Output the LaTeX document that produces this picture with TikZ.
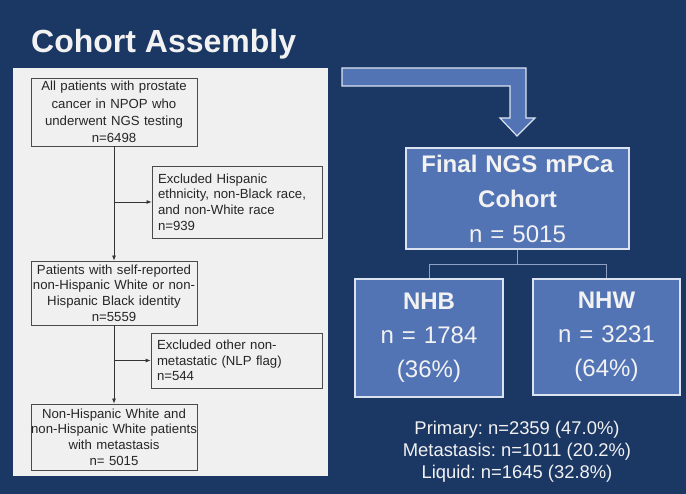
\documentclass[tikz,border=0pt]{standalone}
\usepackage{fontspec}
\setmainfont{Liberation Sans}
\frenchspacing
\usetikzlibrary{arrows.meta}
\definecolor{bg}{HTML}{1B3764}
\definecolor{panel}{HTML}{F0F0F0}
\definecolor{flowedge}{HTML}{4A4A4A}
\definecolor{boxblue}{HTML}{5274B5}
\definecolor{boxedge}{HTML}{DCE3F0}
\definecolor{connblue}{HTML}{8EA2C6}
\definecolor{lighttext}{HTML}{F2F2F2}
\tikzset{
  flowbox/.style={draw=flowedge, fill=panel, line width=0.8pt, inner sep=0pt,
    font=\fontsize{13.2}{15.7}\selectfont, text=black!85},
  centerbox/.style={flowbox, align=center, text width=166, minimum width=166},
  leftbox/.style={flowbox, align=left, inner xsep=6pt, text width=#1},
  flowarrow/.style={draw=black!80, line width=0.8pt, -{Latex[length=5pt,width=4pt]}},
  bluebox/.style={fill=boxblue, draw=boxedge, line width=1.2pt, inner sep=0pt,
    text=lighttext, align=center},
  conn/.style={draw=connblue, line width=0.9pt},
}
\begin{document}
\frenchspacing
\begin{tikzpicture}[x=1pt,y=-1pt]
\fill[bg] (0,0) rectangle (686,494);
\useasboundingbox (0,0) rectangle (686,494);

% title
\node[anchor=base west, inner sep=0pt, text=lighttext, font=\fontsize{32}{36}\selectfont\bfseries] (title) at (31,53) {Cohort Assembly};

% left panel
\node[fill=panel, minimum width=315, minimum height=408, inner sep=0pt, anchor=north west] (panel) at (13,68) {};

% flow boxes
\node[centerbox, minimum height=68, font=\fontsize{13.2}{17.3}\selectfont] (b1) at (114,112)
  {All patients with prostate\\cancer in NPOP who\\underwent NGS testing\\n=6498};
\node[leftbox=158, minimum width=170, minimum height=72] (b2) at (237,202)
  {Excluded Hispanic\\ethnicity, non-Black race,\\and non-White race\\n=939};
\node[centerbox, minimum height=64] (b3) at (114,293)
  {Patients with self-reported\\non-Hispanic White or non-\\Hispanic Black identity\\n=5559};
\node[leftbox=159, minimum width=171, minimum height=55] (b4) at (236.5,360.5)
  {Excluded other non-\\metastatic (NLP flag)\\n=544};
\node[centerbox, minimum height=66] (b5) at (114,437)
  {Non-Hispanic White and\\non-Hispanic White patients\\with metastasis\\n= 5015};

\coordinate (j1) at (b1.south |- b2.west);
\coordinate (j2) at (b3.south |- b4.west);
\draw[flowarrow] (b1.south) -- (b3.north);
\draw[flowarrow] (j1) -- (b2.west);
\draw[flowarrow] (b3.south) -- (b5.north);
\draw[flowarrow] (j2) -- (b4.west);

% big bent arrow
\draw[fill=boxblue, draw=boxedge, line width=1.2pt, line join=miter]
  (342,68) -- (526,68) -- (526,118) -- (535,118) -- (517,136) -- (500,118)
  -- (510,118) -- (510,86) -- (342,86) -- cycle;

% right boxes
\node[bluebox, minimum width=223, minimum height=101, text width=223,
  font=\fontsize{24}{35}\selectfont] (final) at (517.5,198.5)
  {\textbf{Final NGS mPCa}\\\textbf{Cohort}\\n = 5015};
\node[bluebox, minimum width=148, minimum height=118, text width=148,
  font=\fontsize{24}{34}\selectfont] (nhb) at (429,338)
  {\textbf{NHB}\\n = 1784\\(36\%)};
\node[bluebox, minimum width=147, minimum height=116, text width=147,
  font=\fontsize{24}{34}\selectfont] (nhw) at (606.5,337)
  {\textbf{NHW}\\n = 3231\\(64\%)};

\draw[conn] (final.south) -- ++(0,15) -| (nhb.north);
\draw[conn] (final.south) -- ++(0,15) -| (nhw.north);

\node[align=center, inner sep=0pt, text=lighttext, font=\fontsize{18.4}{22}\selectfont] (stats) at (517,452)
  {Primary: n=2359 (47.0\%)\\Metastasis: n=1011 (20.2\%)\\Liquid: n=1645 (32.8\%)};
\end{tikzpicture}
\end{document}
